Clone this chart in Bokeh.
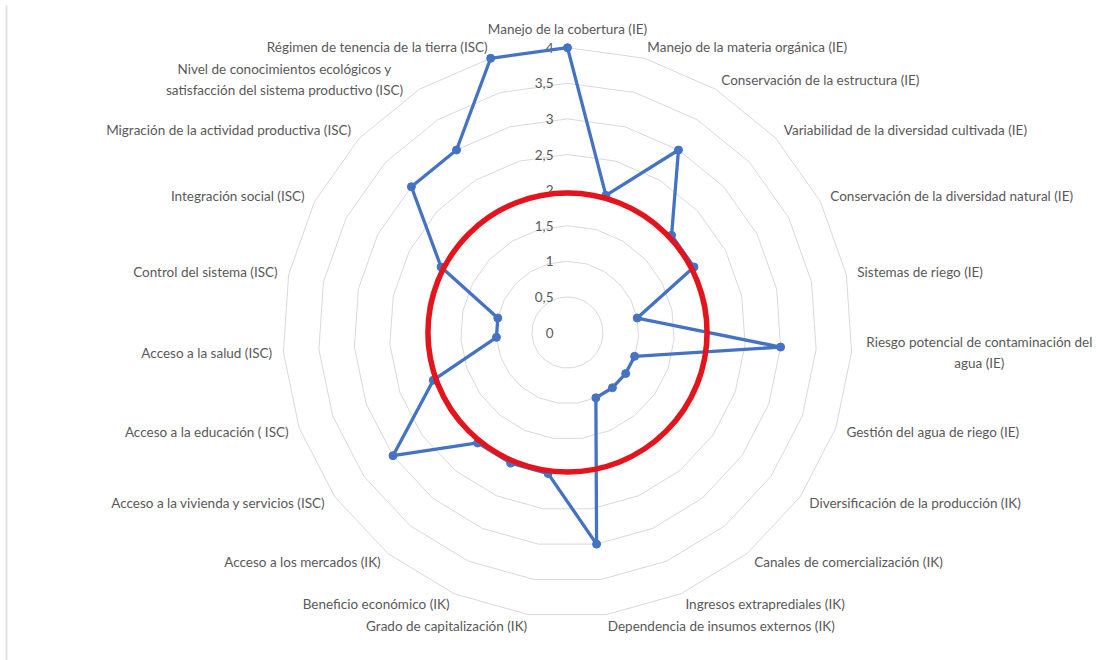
import numpy as np
from bokeh.plotting import figure
from bokeh.models import Range1d, ColumnDataSource
from bokeh.core.properties import value
from bokeh.embed import file_html
from bokeh.resources import INLINE

# ---------------- data ----------------
categories = [
    "Manejo de la cobertura (IE)",
    "Manejo de la materia orgánica (IE)",
    "Conservación de la estructura (IE)",
    "Variabilidad de la diversidad cultivada (IE)",
    "Conservación de la diversidad natural (IE)",
    "Sistemas de riego (IE)",
    "Riesgo potencial de contaminación del\nagua (IE)",
    "Gestión del agua de riego (IE)",
    "Diversificación de la producción (IK)",
    "Canales de comercialización (IK)",
    "Ingresos extraprediales (IK)",
    "Dependencia de insumos externos (IK)",
    "Grado de capitalización (IK)",
    "Beneficio económico (IK)",
    "Acceso a los mercados (IK)",
    "Acceso a la vivienda y servicios (ISC)",
    "Acceso a la educación ( ISC)",
    "Acceso a la salud (ISC)",
    "Control del sistema (ISC)",
    "Integración social (ISC)",
    "Migración de la actividad productiva (ISC)",
    "Nivel de conocimientos ecológicos y\nsatisfacción del sistema productivo (ISC)",
    "Régimen de tenencia de la tierra (ISC)",
]
values = [4, 2, 3, 2, 2, 1, 3, 1, 1, 1, 1, 3, 2, 2, 2, 3, 2, 1, 1, 2, 3, 3, 4]
ring_values = [0.5, 1, 1.5, 2, 2.5, 3, 3.5, 4]
tick_values = [0, 0.5, 1, 1.5, 2, 2.5, 3, 3.5, 4]
tick_labels = ["0", "0,5", "1", "1,5", "2", "2,5", "3", "3,5", "4"]
threshold = 2

# ---------------- layout constants ----------------
W, H = 1119, 660
CX, CY = 567, 332          # pixel position of radar centre
S = 71.2                   # pixels per unit
LABEL_R = 296 / S          # label anchor radius
FONT = "Lato"
FS = "13.5px"
TXT = "#595959"
BLUE = "#4472C4"
RED = "#E3141C"
GRID = "#D9D9D9"

n = len(categories)
ang = np.arange(n) * 2 * np.pi / n
sx, cy_ = np.sin(ang), np.cos(ang)

p = figure(width=W, height=H, output_backend="svg", toolbar_location=None,
           x_range=Range1d(-CX / S, (W - CX) / S),
           y_range=Range1d(-(H - CY) / S, CY / S),
           min_border=0, outline_line_color=None,
           background_fill_color="white", border_fill_color="white")
p.axis.visible = False
p.xgrid.visible = False
p.ygrid.visible = False

# chart-area border on the left edge
p.segment(x0=[-(CX - 6) / S], y0=[(CY - 5) / S], x1=[-(CX - 6) / S], y1=[-(H - CY) / S],
          line_color="#E3E3E3", line_width=2)

# rings
xs_r, ys_r = [], []
for r in ring_values:
    xs_r.append(list(np.append(r * sx, r * sx[0])))
    ys_r.append(list(np.append(r * cy_, r * cy_[0])))
p.multi_line(xs_r, ys_r, line_color=GRID, line_width=1)

# tick labels along the top axis
p.text(x=[0] * len(tick_values), y=tick_values, text=tick_labels,
       text_font=value(FONT), text_font_size=FS, text_color=TXT,
       text_align="right", text_baseline="middle", x_offset=-14)

# data series
vals = np.array(values, dtype=float)
px, py = vals * sx, vals * cy_
p.line(list(np.append(px, px[0])), list(np.append(py, py[0])),
       line_color=BLUE, line_width=3.3, line_join="round")
p.scatter(px, py, size=8, fill_color=BLUE, line_color=BLUE)

# threshold circle
p.circle(x=[0], y=[0], radius=threshold * 0.98, fill_color=None,
         line_color=RED, line_width=5.5)

# category labels
lx, ly, la, lb, lxo = [], [], [], [], []
CHAR_W = 6.3
for i, lab in enumerate(categories):
    x = LABEL_R * sx[i]
    y = LABEL_R * cy_[i]
    lines = lab.split("\n")
    if abs(sx[i]) < 0.05:
        align, base, xo = "center", ("bottom" if cy_[i] > 0 else "top"), 0
    elif sx[i] > 0:
        align, base, xo = "left", "middle", 0
    else:
        align, base, xo = "right", "middle", 0
    if len(lines) > 1:
        half = max(len(l) for l in lines) * CHAR_W / 2
        xo = half if sx[i] > 0 else -half
        align = "center"
    lx.append(x); ly.append(y); la.append(align); lb.append(base); lxo.append(xo)

src = ColumnDataSource(dict(x=lx, y=ly, text=categories, align=la, base=lb, xo=lxo))
p.text(x="x", y="y", text="text", source=src, text_align="align",
       text_baseline="base", x_offset="xo",
       text_font=value(FONT), text_font_size=FS, text_color=TXT,
       text_line_height=1.3)

open("out.html", "w").write(file_html(p, INLINE))
